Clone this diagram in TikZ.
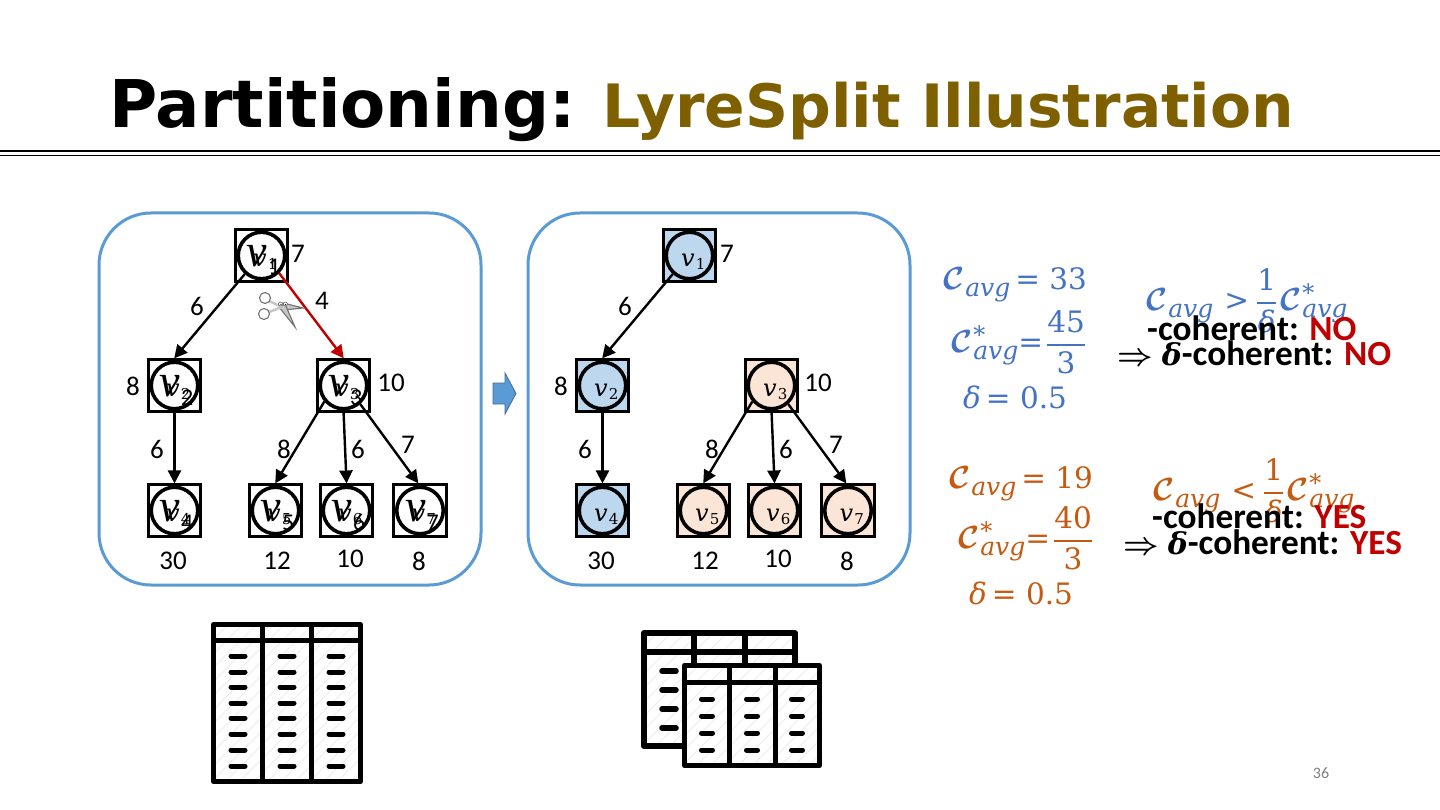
\documentclass[tikz,border=0pt]{standalone}
\usepackage{fix-cm}
\usepackage{amsmath}
\usepackage{fontspec}
\setmainfont{Carlito}
\newfontfamily\titlefont{DejaVu Sans}
\newfontfamily\mf{DejaVu Serif}
\newfontfamily\bv{Liberation Serif}
\usetikzlibrary{arrows.meta}
\definecolor{panelblue}{HTML}{5B9BD5}
\definecolor{nodeblue}{HTML}{BDD7EE}
\definecolor{nodeorange}{HTML}{FBE5D6}
\definecolor{mathblue}{HTML}{4472C4}
\definecolor{mathorange}{HTML}{C55A11}
\definecolor{noyes}{HTML}{C00000}
\definecolor{titlegold}{HTML}{7F6000}
\newcommand{\fsz}[1]{\fontsize{#1}{#1}\selectfont}
\newcommand{\bigv}[1]{{\bv\itshape\fsz{46}v}\kern1pt\raisebox{-8.5pt}{\fsz{24}#1}}
\newcommand{\smallv}[1]{{\mf\itshape\fsz{24}v}\kern1pt\raisebox{-3pt}{\mf\fsz{15}#1}}
\newcommand{\fm}[1]{{\mf\fsz{29.5}#1}}
\newcommand{\Cc}{{\fsz{32}\boldmath$\mathcal{C}$}}
\newcommand{\Cavg}{\Cc\kern1pt\raisebox{-7pt}{\mf\itshape\fsz{25}avg}}
\newcommand{\Cstar}{\Cc\kern1pt\rlap{\raisebox{9pt}{\mf\fsz{24}*}}\raisebox{-7pt}{\mf\itshape\fsz{25}avg}}
\newcommand{\Fr}[2]{$\genfrac{}{}{2pt}{0}{\mbox{\fm{#1}}}{\mbox{\fm{#2}}}$}
\newcommand{\Del}{\fm{\itshape δ}}
\newcommand{\Arr}{{\fsz{31}\boldmath$\Rightarrow$}\hspace{9pt}{\mf\bfseries\itshape\fsz{30}δ}}
\tikzset{
  x=1pt,y=-1pt,
  panel/.style={draw=panelblue,line width=3pt,rounded corners=52pt},
  sq/.style={draw=black,line width=2.6pt,minimum size=52.5pt,inner sep=0pt},
  circ/.style={circle,draw=black,line width=3.6pt,minimum size=46.5pt,inner sep=0pt},
  edge/.style={draw=black,line width=2.4pt,-{Triangle[length=13pt,width=13pt]},shorten >=-0.5pt},
  cutedge/.style={edge,draw=noyes,-{Triangle[length=13pt,width=13pt,fill=noyes]}},
  lab/.style={font=\fsz{27},inner sep=0pt,text=black},
  vlab/.style={inner sep=0pt,text=black,anchor=base west},
  fml/.style={inner sep=0pt,font=\fsz{29.5},anchor=base west},
  coh/.style={inner sep=0pt,font=\fsz{35.3}\bfseries,text=black,anchor=base west},
  tbl/.style={draw=black,line cap=round,line join=round},
  hatch/.style={draw=black!7,line width=1pt},
}
\newcommand{\hatchbox}[4]{%
  \begin{scope}
    \clip (#1,#2) rectangle (#3,#4);
    \foreach \k in {0,14,...,360}{\draw[hatch] (#1+\k-170,#4) -- ++(170,-170);}
  \end{scope}}
\begin{document}
\begin{tikzpicture}
\useasboundingbox (0,0) rectangle (1440,810);
\fill[white] (0,0) rectangle (1440,810);
% title
\node[anchor=base west,inner sep=0pt,font=\titlefont\bfseries\fsz{65.8}] (t1) at (109,128) {Partitioning:};
\node[anchor=base west,inner sep=0pt,font=\titlefont\bfseries\fsz{59.8},text=titlegold] (t2) at (602,128) {LyreSplit Illustration};
\coordinate (ruleAL) at (0,151); \coordinate (ruleAR) at (1440,151);
\coordinate (ruleBL) at (0,156); \coordinate (ruleBR) at (1440,156);
\draw[line width=1.6pt] (ruleAL) -- (ruleAR);
\draw[line width=1pt] (ruleBL) -- (ruleBR);
% panels
\draw[panel] (99,213) rectangle (481,585);
\draw[panel] (528,213) rectangle (910,585);
% left graph
\foreach \n/\x/\y in {1/261.5/255.5,2/174.5/385.5,3/343.5/385.5,4/174.5/510.5,5/275.5/510.5,6/346.5/510.5,7/420/510.5}{
  \node[sq] (s\n) at (\x,\y) {};
  \node[circ] (c\n) at (\x,\y) {};
  \node[vlab] (b\n) at (\x-15,\y+11) {\bigv{\n}};
  \node[vlab] (m\n) at (\x-8.5,\y+11) {\smallv{\n}};
}
% right graph
\foreach \n/\x/\y/\c in {1/689.5/255.5/nodeblue,2/602.5/385.5/nodeblue,4/602.5/510.5/nodeblue,3/771.5/385.5/nodeorange,5/703.5/510.5/nodeorange,6/774.5/510.5/nodeorange,7/848/510.5/nodeorange}{
  \node[sq,fill=\c] (rs\n) at (\x,\y) {};
  \node[circ,fill=\c] (rc\n) at (\x,\y) {};
  \node[vlab] (rm\n) at (\x-8.5,\y+11) {\smallv{\n}};
}
% edges
\draw[edge] (c1.228) -- (s2.north);
\draw[cutedge] (c1.-45) -- (s3.north);
\draw[edge] (s2.south) -- (s4.north);
\draw[edge] (c3.-140) -- (s5.north);
\draw[edge] (c3.-90) -- (s6.north);
\draw[edge] (c3.-48) -- ([xshift=-2pt]s7.north);
\draw[edge] (rc1.228) -- (rs2.north);
\draw[edge] (rs2.south) -- (rs4.north);
\draw[edge] (rc3.-140) -- (rs5.north);
\draw[edge] (rc3.-90) -- (rs6.north);
\draw[edge] (rc3.-48) -- ([xshift=-2pt]rs7.north);
% edge and node labels
\foreach \i/\x/\y/\t in {a/298/254/7,b/197/306/6,c/322/301/4,d/133/386/8,e/391/383/10,f/157/449/6,g/284/449/8,h/358/449/6,i/408/445/7,j/173/561/30,k/277/561/12,l/350/559/10,m/419/561/8,
  n/727/254/7,o/625/306/6,p/561/386/8,q/818/383/10,r/585/449/6,s/712/449/8,t/786/449/6,u/836/445/7,v/601/561/30,w/705/561/12,x/778/559/10,y/847/561/8}{
  \node[lab] (lab\i) at (\x,\y) {\t};
}
% scissors
\begin{scope}[draw=black!55,line width=1.1pt]
  \fill[black!22,draw=black!55] (283,303) -- (303,308) -- (284,310) -- cycle;
  \fill[black!22,draw=black!55] (279,307) -- (295,327) -- (285,304) -- cycle;
  \draw[black!22,line width=2.6pt] (269,301) -- (282,307);
  \draw[black!22,line width=2.6pt] (269,312) -- (282,307);
  \draw (265,298) circle[radius=5.5];
  \draw (264,314) circle[radius=5.5];
  \fill[white,draw=black!60,line width=0.6pt] (280.5,304) circle[radius=2];
  \fill[white,draw=black!60,line width=0.6pt] (285.5,304) circle[radius=2];
  \fill[black] (281,304.5) circle[radius=0.7];
  \fill[black] (285.5,304.5) circle[radius=0.7];
\end{scope}
% block arrow
\coordinate (ba0) at (493,383);
\draw[fill=panelblue,draw=panelblue!70!black,line width=0.8pt] (ba0) -- (505,383) -- (505,373) -- (516,393.5) -- (505,414) -- (505,404) -- (493,404) -- cycle;
% math
\node[fml,text=mathblue] (f1) at (943,290) {\Cavg\hspace{5pt}\fm{= 33}};
\node[fml,text=mathblue] (f2) at (951,352) {\Cstar\fm{=}\hspace{3pt}\Fr{45}{3}};
\node[fml,text=mathblue] (f3) at (963,408) {\Del\hspace{5pt}\fm{= 0.5}};
\node[fml,text=mathblue] (f4) at (1146,310) {\Cavg\hspace{11pt}\fm{>}\hspace{7pt}\Fr{1}{\itshape δ}\hspace{3pt}\Cstar};
\node[fml,text=mathorange] (g1) at (949,488) {\Cavg\hspace{5pt}\fm{= 19}};
\node[fml,text=mathorange] (g2) at (958,548) {\Cstar\fm{=}\hspace{3pt}\Fr{40}{3}};
\node[fml,text=mathorange] (g3) at (969,604) {\Del\hspace{5pt}\fm{= 0.5}};
\node[fml,text=mathorange] (g4) at (1153,500) {\Cavg\hspace{11pt}\fm{<}\hspace{7pt}\Fr{1}{\itshape δ}\hspace{3pt}\Cstar};
% verdicts
\node[coh] (h1) at (1147,340) {-coherent: \textcolor{noyes}{NO}};
\node[coh] (h2) at (1117,365) {\Arr-coherent: \textcolor{noyes}{NO}};
\node[coh] (h3) at (1152,528) {-coherent: \textcolor{noyes}{YES}};
\node[coh] (h4) at (1123,554) {\Arr-coherent: \textcolor{noyes}{YES}};
% left table
\hatchbox{213}{624}{361}{782}
\draw[tbl,line width=5pt] (213.5,624.5) rectangle (360.5,781.5);
\draw[tbl,line width=5pt] (213.5,640) -- (360.5,640);
\draw[tbl,line width=5pt] (262,624.5) -- (262,781.5);
\draw[tbl,line width=5pt] (311,624.5) -- (311,781.5);
\foreach \y in {656,672,687,703,718,734,750,766}{
  \foreach \x in {238,287,336}{\draw[tbl,line width=5pt] (\x-7,\y) -- (\x+7,\y);}
}
% right tables
\hatchbox{644}{633}{795}{746}
\draw[tbl,line width=6pt] (644,633) rectangle (795,746);
\draw[tbl,line width=6pt] (644,652) -- (795,652);
\draw[tbl,line width=6pt] (694,633) -- (694,680);
\draw[tbl,line width=6pt] (745,633) -- (745,680);
\foreach \y in {671,690,709,728}{\draw[tbl,line width=5.5pt] (662,\y) -- (676,\y);}
\fill[white] (684.5,665.5) rectangle (819.5,765.5);
\hatchbox{684.5}{665.5}{819.5}{765.5}
\draw[tbl,line width=5pt] (684.5,665.5) rectangle (819.5,765.5);
\draw[tbl,line width=5pt] (684.5,682) -- (819.5,682);
\draw[tbl,line width=5pt] (729,665.5) -- (729,765.5);
\draw[tbl,line width=5pt] (775,665.5) -- (775,765.5);
\foreach \y in {699,716,733,750}{
  \foreach \x in {707,752,797}{\draw[tbl,line width=5pt] (\x-5.5,\y) -- (\x+5.5,\y);}
}
% page number
\node[inner sep=0pt,font=\fsz{16},text=black!50] (pg) at (1321,773) {36};
\end{tikzpicture}
\end{document}
